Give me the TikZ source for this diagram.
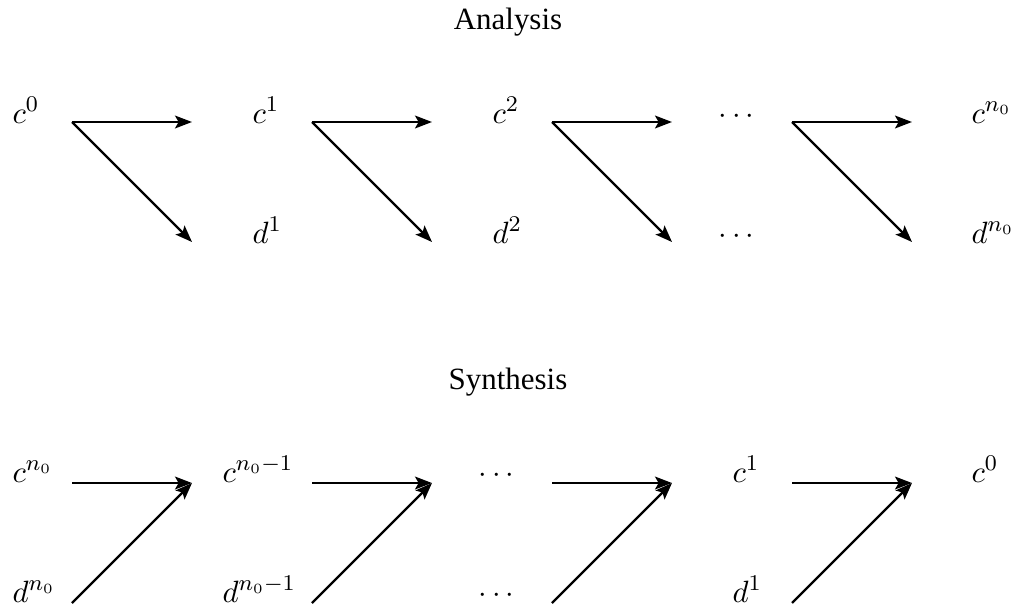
\documentclass[tikz,border=0pt]{standalone}
\usepackage{fontspec}
\setmainfont{Liberation Serif}
\usepackage{tikz}
\usetikzlibrary{arrows.meta}

\begin{document}
\begin{tikzpicture}[
  x=0.025cm, y=-0.025cm,
  every node/.style={font=\fontsize{11}{13}\selectfont, scale=2, inner sep=0pt},
  term/.style={anchor=base west},
  heading/.style={anchor=base},
  map/.style={line width=2pt, -{Stealth[length=12pt, width=9pt, inset=2.5pt]}},
  skew/.style={map, line width=1.6pt},
]
\useasboundingbox (0,0) rectangle (1016,612);

% Analysis
\node[heading] (ana) at (508,29) {Analysis};
\node[term] (ac0) at (12,123) {$c^0$};
\node[term] (ac1) at (252,123) {$c^1$};
\node[term] (ac2) at (492,123) {$c^2$};
\node[term] (acd) at (718,123) {$\cdots$};
\node[term] (acn) at (971,123) {$c^{n_0}$};
\node[term] (ad1) at (252,243) {$d^1$};
\node[term] (ad2) at (492,243) {$d^2$};
\node[term] (add) at (718,243) {$\cdots$};
\node[term] (adn) at (971,243) {$d^{n_0}$};

\foreach \k in {0,...,3} {
  \coordinate (as\k) at ({72+240*\k},122);
  \coordinate (ah\k) at ({192+240*\k},122);
  \coordinate (av\k) at ({192+240*\k},242);
  \draw[map] (as\k) -- (ah\k);
  \draw[skew] (as\k) -- (av\k);
}

% Synthesis
\node[heading] (syn) at (508,389) {Synthesis};
\node[term] (sc0) at (12,482) {$c^{n_0}$};
\node[term] (sc1) at (222,482) {$c^{n_0-1}$};
\node[term] (scd) at (478,482) {$\cdots$};
\node[term] (sc3) at (732,482) {$c^1$};
\node[term] (sc4) at (971,482) {$c^0$};
\node[term] (sd0) at (12,602) {$d^{n_0}$};
\node[term] (sd1) at (222,602) {$d^{n_0-1}$};
\node[term] (sdd) at (478,602) {$\cdots$};
\node[term] (sd3) at (732,602) {$d^1$};

\foreach \k in {0,...,3} {
  \coordinate (sh\k) at ({72+240*\k},483);
  \coordinate (sv\k) at ({72+240*\k},603);
  \coordinate (st\k) at ({192+240*\k},483);
  \draw[map] (sh\k) -- (st\k);
  \draw[skew] (sv\k) -- (st\k);
}

\end{tikzpicture}
\end{document}
